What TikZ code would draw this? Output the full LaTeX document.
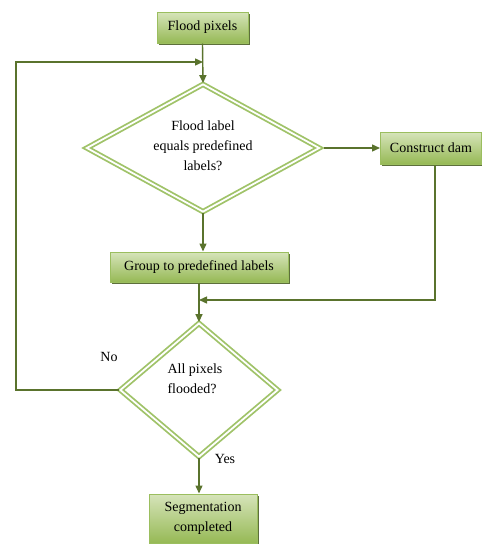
\documentclass[tikz,border=0pt]{standalone}
\usepackage{fontspec}
\setmainfont{Liberation Serif}
\usetikzlibrary{shapes.geometric,shadows,arrows.meta}
\definecolor{boxtop}{RGB}{214,228,186}
\definecolor{boxbot}{RGB}{150,185,85}
\definecolor{boxedge}{RGB}{155,190,95}
\definecolor{dmedge}{RGB}{160,195,105}
\definecolor{lineclr}{RGB}{90,115,45}
\definecolor{shadowclr}{RGB}{75,95,38}
\begin{document}
\begin{tikzpicture}[x=1pt,y=-1pt,
  every node/.style={font=\fontsize{14}{20}\selectfont, text=black},
  procbox/.style={rectangle, draw=boxedge, line width=1pt, inner sep=0pt,
    top color=boxtop, bottom color=boxbot, align=center,
    drop shadow={shadow xshift=1.5pt, shadow yshift=-2pt, fill=shadowclr, opacity=0.9}},
  decision/.style={diamond, draw=dmedge, line width=1.8pt, double=white, double distance=1.8pt, inner sep=0pt},
  arr/.style={draw=lineclr, line width=1.4pt, -{Triangle[length=8pt,width=7pt]}},
  ln/.style={draw=lineclr, line width=1.4pt}
]
\useasboundingbox (0,0) rectangle (482,544);

\node[procbox, minimum width=91pt, minimum height=31pt] (fp) at (202.5,27.5) {Flood pixels};
\node[decision, minimum width=233pt, minimum height=128pt] (d1) at (203,148) {};
\node[align=center] (d1t) at (203,146) {Flood label\\equals predefined\\labels?};
\node[procbox, minimum width=101pt, minimum height=32pt] (cd) at (431,148) {Construct dam};
\node[procbox, minimum width=178pt, minimum height=30pt] (gp) at (199,267) {Group to predefined labels};
\node[decision, minimum width=158pt, minimum height=134pt] (d2) at (199,390) {};
\node[align=left] (d2t) at (195,379) {All pixels\\flooded?};
\node[procbox, minimum width=108pt, minimum height=49pt] (sc) at (203,518.5) {Segmentation\\completed};

\node (no) at (109,357) {No};
\node (yes) at (225,459) {Yes};

\coordinate (m1) at (203,62);
\coordinate (lc) at (16,62);
\coordinate (m2) at (199,300);
\coordinate (cdb) at (435,165);

\draw[arr] (fp.south) -- (d1.north);
\draw[arr] (d2.west) -| (lc) -- (m1);
\draw[arr] ([xshift=4pt]d1.east) -- (cd.west);
\draw[arr] (d1.south) -- (d1.south |- gp.north);
\draw[arr] (gp.south) -- (d2.north);
\draw[arr] (cdb) |- (m2);
\draw[arr] (d2.south) -- (d2.south |- sc.north);
\end{tikzpicture}
\end{document}
